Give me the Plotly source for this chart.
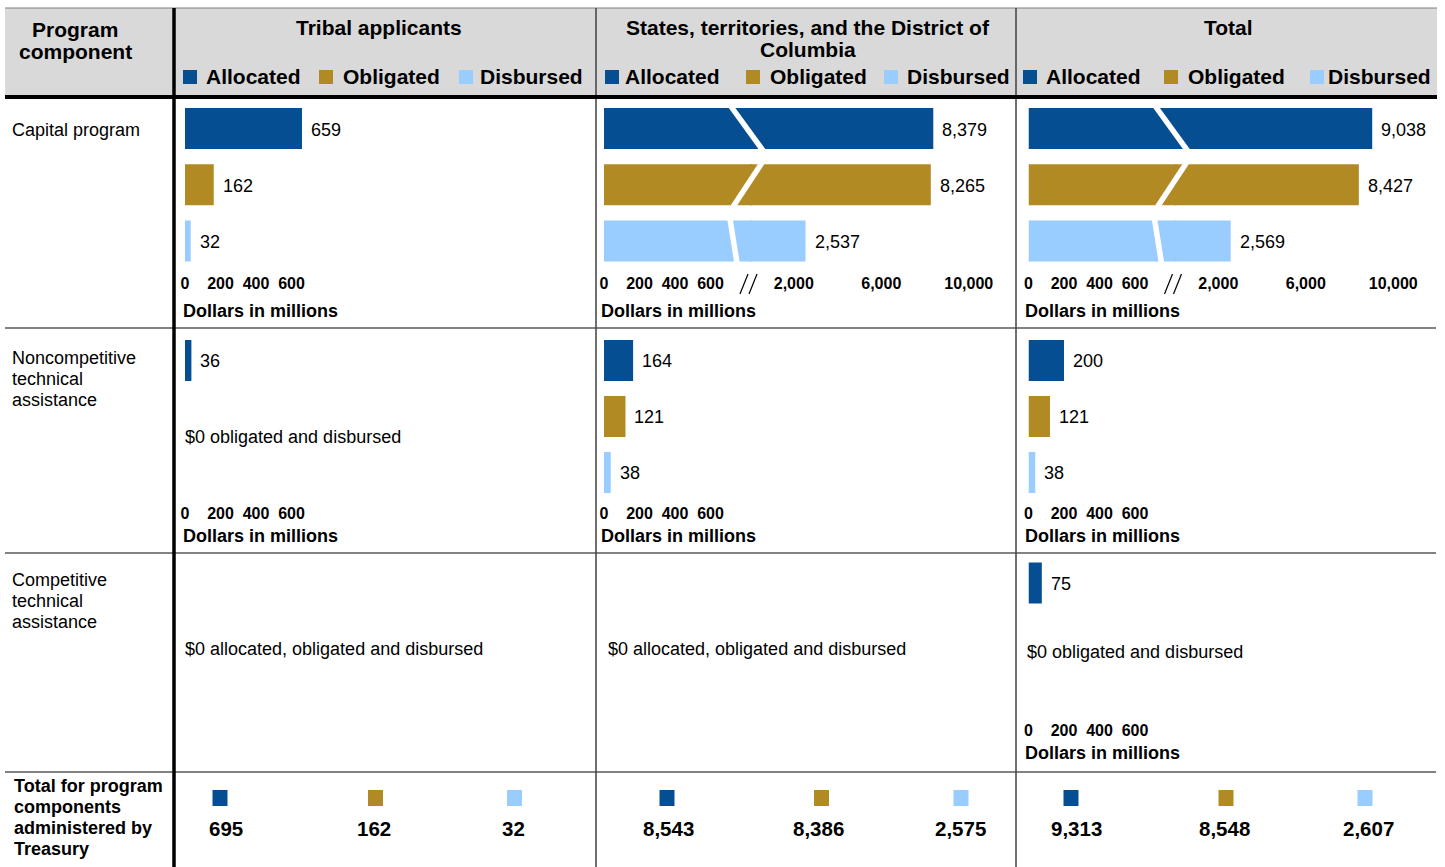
import plotly.graph_objects as go

# ---------------- data ----------------
series = ["Allocated", "Obligated", "Disbursed"]
series_colors = ["#054E91", "#B28A24", "#99CCFF"]

column_titles = [["Tribal applicants"],
                 ["States, territories, and the District of", "Columbia"],
                 ["Total"]]
row_titles = [["Capital program"],
              ["Noncompetitive", "technical", "assistance"],
              ["Competitive", "technical", "assistance"]]
total_row_title = ["Total for program", "components", "administered by", "Treasury"]
corner_title = ["Program", "component"]

tribal_capital = [659, 162, 32]
tribal_noncompetitive = [36, 0, 0]
tribal_competitive = [0, 0, 0]
states_capital = [8379, 8265, 2537]
states_noncompetitive = [164, 121, 38]
states_competitive = [0, 0, 0]
total_capital = [9038, 8427, 2569]
total_noncompetitive = [200, 121, 38]
total_competitive = [75, 0, 0]

totals_tribal = [695, 162, 32]
totals_states = [8543, 8386, 2575]
totals_total = [9313, 8548, 2607]

low_ticks = [0, 200, 400, 600]
high_ticks = [2000, 6000, 10000]
axis_title = "Dollars in millions"

# ---------------- layout helpers ----------------
W, H = 1445, 867
FONT = "Liberation Sans, Arial, sans-serif"
BLACK = "#000000"


def X(p):
    return ((p - 4) / 0.99723) / W


def Y(p):
    return 1 - p / H


LOW_SCALE = 0.1775      # px per $M on the 0-600 segment
HIGH_SCALE = 0.021875   # px per $M on the broken upper segment
BREAK_PX = 146          # width of the low segment in broken axes
OVERLAP = 2             # low segment overlaps the high one to hide the seam
PAD = 2                 # annotation inner padding compensation

col_zero = [185, 604, 1028.5]
col_title_x = [183, 601, 1025]
row_geom = [  # domain top, domain bottom, tick label centre, axis title centre
    (100.4, 269.1, 283, 311),
    (332.5, 500.5, 513, 536),
    (555, 723, 730, 753),
]

cells = [
    (0, 0, tribal_capital, False),
    (1, 0, states_capital, True),
    (2, 0, total_capital, True),
    (0, 1, tribal_noncompetitive, False),
    (1, 1, states_noncompetitive, False),
    (2, 1, total_noncompetitive, False),
    (2, 2, total_competitive, False),
]

fig = go.Figure()
layout_axes = {}
annotations = []
shapes = []
counter = [0]


def fmt(v):
    return f"{v:,}"


def new_axes(x0, x1, rng, top, bottom, tick_y, tickvals):
    counter[0] += 1
    n = counter[0]
    xk = "xaxis" if n == 1 else f"xaxis{n}"
    yk = "yaxis" if n == 1 else f"yaxis{n}"
    xr = "x" if n == 1 else f"x{n}"
    yr = "y" if n == 1 else f"y{n}"
    layout_axes[xk] = dict(
        domain=[X(x0), X(x1)], range=rng, anchor="free", position=Y(tick_y - 11),
        showgrid=False, zeroline=False, showline=False, ticks="",
        tickvals=tickvals, ticktext=[f"<b>{fmt(t)}</b>" for t in tickvals],
        tickfont=dict(family=FONT, size=16, color=BLACK), fixedrange=True,
    )
    layout_axes[yk] = dict(
        domain=[Y(bottom), Y(top)], type="category", categoryarray=series,
        range=[2.5, -0.5], visible=False, anchor=xr, fixedrange=True,
    )
    return xr, yr


def add_bars(xr, yr, values):
    fig.add_trace(go.Bar(
        x=values, y=series, orientation="h", width=0.73,
        marker=dict(color=series_colors, line=dict(width=0)),
        xaxis=xr, yaxis=yr, showlegend=False, hoverinfo="skip",
    ))


def value_labels(xr, yr, values):
    for s, v in zip(series, values):
        if v > 0:
            annotations.append(dict(
                x=v, y=s, xref=xr, yref=yr, text=fmt(v), showarrow=False,
                xanchor="left", yanchor="middle", xshift=7, yshift=-1,
                font=dict(family=FONT, size=18, color=BLACK),
            ))


gap_offsets = [(-19, 13), (12, -17), (-20, -13)]  # slanted white cut (top, bottom) vs junction


def text(x, y, s, size=18, bold=False, anchor="left"):
    if anchor == "left":
        x = x - PAD
    annotations.append(dict(x=X(x), y=Y(y), xref="paper", yref="paper",
                            text=f"<b>{s}</b>" if bold else s, showarrow=False,
                            xanchor=anchor, yanchor="middle",
                            font=dict(family=FONT, size=size, color=BLACK)))


for col, row, values, broken in cells:
    top, bottom, tick_y, title_y = row_geom[row]
    z = col_zero[col]
    if broken:
        j = z + BREAK_PX
        xr2, yr2 = new_axes(j, j + 250, [0, 250 / HIGH_SCALE], top, bottom, tick_y, high_ticks)
        add_bars(xr2, yr2, values)
        value_labels(xr2, yr2, values)
        xr1, yr1 = new_axes(z, j + OVERLAP, [0, (BREAK_PX + OVERLAP) / LOW_SCALE], top, bottom,
                            tick_y, low_ticks)
        add_bars(xr1, yr1, values)
        step = (bottom - top) / 3
        for i, (dt, db) in enumerate(gap_offsets):
            bt = top + step * i + step * 0.135
            bb = top + step * (i + 1) - step * 0.135
            shapes.append(dict(type="line", xref="paper", yref="paper",
                               x0=X(j + dt), y0=Y(bt - 1.5), x1=X(j + db), y1=Y(bb + 1.5),
                               line=dict(color="white", width=5.5)))
        for dx in (-6, 3):
            shapes.append(dict(type="line", xref="paper", yref="paper",
                               x0=X(j + dx - 4), y0=Y(tick_y + 11), x1=X(j + dx + 4), y1=Y(tick_y - 9),
                               line=dict(color=BLACK, width=1.2)))
    else:
        xr, yr = new_axes(z, z + 400, [0, 400 / LOW_SCALE], top, bottom, tick_y, low_ticks)
        add_bars(xr, yr, values)
        value_labels(xr, yr, values)
    text(col_title_x[col], title_y, axis_title, size=18, bold=True)


# zero notes
text(185, 437, "$0 obligated and disbursed")
text(185, 649, "$0 allocated, obligated and disbursed")
text(608, 649, "$0 allocated, obligated and disbursed")
text(1027, 652, "$0 obligated and disbursed")

# header background & grid lines
shapes.insert(0, dict(type="rect", xref="paper", yref="paper", x0=X(5), x1=X(1437),
                      y0=Y(97), y1=Y(8), fillcolor="#D9D9D9", line=dict(width=0), layer="below"))
shapes.append(dict(type="line", xref="paper", yref="paper", x0=X(5), x1=X(1437), y0=Y(8), y1=Y(8),
                   line=dict(color="#7F7F7F", width=1)))
for yy in (328, 553, 772):
    shapes.append(dict(type="line", xref="paper", yref="paper", x0=X(5), x1=X(1436), y0=Y(yy), y1=Y(yy),
                       line=dict(color="#595959", width=1.5)))
for xx in (596, 1016):
    shapes.append(dict(type="line", xref="paper", yref="paper", x0=X(xx), x1=X(xx), y0=Y(8), y1=Y(867),
                       line=dict(color="#404040", width=1.5)))
shapes.append(dict(type="line", xref="paper", yref="paper", x0=X(5), x1=X(1437), y0=Y(97), y1=Y(97),
                   line=dict(color=BLACK, width=4)))
shapes.append(dict(type="line", xref="paper", yref="paper", x0=X(174), x1=X(174), y0=Y(8), y1=Y(867),
                   line=dict(color=BLACK, width=3.5)))

# header texts
for i, line in enumerate(corner_title):
    text(75, 29 + 23 * i, line, size=21, bold=True, anchor="center")
col_center = [379, 808, 1228]
for c, lines in enumerate(column_titles):
    for i, line in enumerate(lines):
        text(col_center[c], 28 + 21 * i, line, size=21, bold=True, anchor="center")

# header legends
legend_pos = [
    [(183, 206), (319, 343), (459, 480)],
    [(605, 625), (746, 770), (884, 907)],
    [(1023, 1046), (1164, 1188), (1310, 1328)],
]
for c in range(3):
    for (sx, tx), s, colr in zip(legend_pos[c], series, series_colors):
        shapes.append(dict(type="rect", xref="paper", yref="paper", x0=X(sx), x1=X(sx + 14),
                           y0=Y(84), y1=Y(70), fillcolor=colr, line=dict(width=0)))
        text(tx, 77, s, size=21, bold=True)

# row titles
row_line_y = [[130], [358, 379, 400], [580, 601, 622]]
for lines, ys in zip(row_titles, row_line_y):
    for line, yy in zip(lines, ys):
        text(12, yy, line, size=18)
for i, line in enumerate(total_row_title):
    text(14, 786 + 21 * i, line, size=18, bold=True)

# totals row
totals_square_x = [[220, 375.5, 514.5], [667, 821.5, 961], [1071, 1226, 1365]]
totals_text_x = [[226, 373.5, 513], [668, 818.5, 960.5], [1076, 1224.5, 1368]]
for sxs, txs, vals in zip(totals_square_x, totals_text_x, [totals_tribal, totals_states, totals_total]):
    for sx, tx, v, colr in zip(sxs, txs, vals, series_colors):
        shapes.append(dict(type="rect", xref="paper", yref="paper", x0=X(sx - 7.5), x1=X(sx + 7.5),
                           y0=Y(806), y1=Y(790), fillcolor=colr, line=dict(width=0)))
        text(tx, 828, fmt(v), size=20.5, bold=True, anchor="center")

fig.update_layout(
    width=W, height=H, margin=dict(l=0, r=0, t=0, b=0),
    paper_bgcolor="white", plot_bgcolor="rgba(0,0,0,0)",
    showlegend=False, annotations=annotations, shapes=shapes,
    font=dict(family=FONT, color=BLACK),
    **layout_axes,
)
fig.write_html(
    "out.html",
    config={"displayModeBar": False},
    post_script="document.body.style.margin='0px';document.body.style.overflow='hidden';",
)
